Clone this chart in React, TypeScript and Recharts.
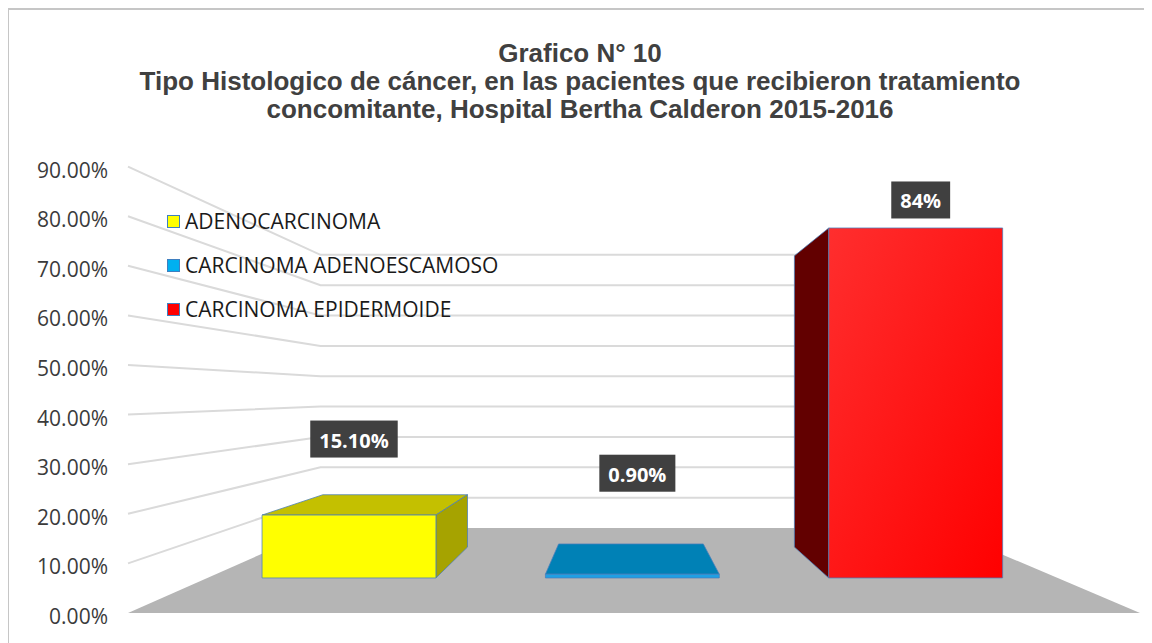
import { Bar, BarChart, CartesianGrid, LabelList, Legend, XAxis, YAxis } from "recharts";

const categories = ["ADENOCARCINOMA", "CARCINOMA ADENOESCAMOSO", "CARCINOMA EPIDERMOIDE"];
const values = [15.1, 0.9, 84];
const valueLabels = ["15.10%", "0.90%", "84%"];
const yTicks = [0, 10, 20, 30, 40, 50, 60, 70, 80, 90];
const titleLines = [
  "Grafico N° 10",
  "Tipo Histologico de cáncer, en las pacientes que recibieron tratamiento",
  "concomitante, Hospital Bertha Calderon 2015-2016",
];

const data = categories.map((name, i) => ({ name, value: values[i], label: valueLabels[i] }));

const W = 1144;
const H = 635;
const margin = { top: 158.6, right: 12, bottom: 30, left: 0 };
const plotLeft = 120;
const plotRight = W - margin.right;

// fake 3d: everything is drawn on the front plane by recharts, then pulled
// towards a vanishing point by a depth factor
const vp = { x: 616, y: 386 };
const wallDepth = 0.612;
const frontDepth = 0.84;
const backDepth = 0.699;

const sans = "'Open Sans', 'Liberation Sans', sans-serif";
const faces = [
  { front: "#FFFF00", top: "#C4C000", side: "#A6A300" },
  { front: "#1FA0E4", top: "#0081B6", side: "#006A96" },
  { front: "url(#redFront)", top: "#B00000", side: "#620000" },
];
const legendFill = ["#FFFF00", "#00B0F0", "#FF0000"];
const labelLift = [76, 101, 28];

function project(x: number, y: number, s: number): [number, number] {
  return [vp.x + s * (x - vp.x), vp.y + s * (y - vp.y)];
}
const pts = (arr: [number, number][]) => arr.map((p) => p.join(",")).join(" ");

let ctx: CanvasRenderingContext2D | null = null;
function textWidth(t: string, font: string) {
  if (!ctx) ctx = document.createElement("canvas").getContext("2d");
  if (!ctx) return t.length * 11;
  ctx.font = font;
  return ctx.measureText(t).width;
}

function WallLine(props: any) {
  const { y1 } = props;
  const floorY = H - margin.bottom;
  if (Math.abs(y1 - floorY) < 1) {
    return (
      <polygon
        key="floor"
        points={pts([
          [plotLeft, y1],
          [plotRight, y1],
          project(plotRight, y1, wallDepth),
          project(plotLeft, y1, wallDepth),
        ])}
        fill="#B5B5B5"
      />
    );
  }
  const back = project(plotLeft, y1, wallDepth);
  const backRight = project(plotRight, y1, wallDepth);
  return (
    <polyline
      key={`wall-${y1}`}
      points={pts([[plotLeft, y1], back, [backRight[0], back[1]]])}
      fill="none"
      stroke="#DADADA"
      strokeWidth={2}
    />
  );
}

function Block(props: any) {
  const { x, y, width, height, index } = props;
  const c = faces[index % faces.length];
  const x2 = x + width;
  const yb = y + height;
  const f = (px: number, py: number) => project(px, py, frontDepth);
  const b = (px: number, py: number) => project(px, py, backDepth);
  const edge = { stroke: "#4A7EBB", strokeWidth: 1, strokeOpacity: 0.75, strokeLinejoin: "round" as const };
  return (
    <g>
      {y > vp.y && <polygon points={pts([f(x, y), f(x2, y), b(x2, y), b(x, y)])} fill={c.top} {...edge} />}
      {x2 < vp.x && (
        <polygon points={pts([f(x2, y), b(x2, y), b(x2, yb), f(x2, yb)])} fill={c.side} {...edge} />
      )}
      {x > vp.x && <polygon points={pts([f(x, y), b(x, y), b(x, yb), f(x, yb)])} fill={c.side} {...edge} />}
      <polygon points={pts([f(x, y), f(x2, y), f(x2, yb), f(x, yb)])} fill={c.front} {...edge} />
    </g>
  );
}

function DataTag(props: any) {
  const vb = props.viewBox ?? props;
  const { x, y, width } = vb;
  const index = props.index ?? 0;
  const text = String(props.value);
  const [cx0] = project(x + width / 2, y, frontDepth);
  const [, top] = project(x, y, frontDepth);
  const cx = cx0 + 5;
  const cy = top - labelLift[index];
  const font = `bold 20px ${sans}`;
  const w = textWidth(text, font) + 18;
  const h = 37;
  return (
    <g>
      <rect x={cx - w / 2} y={cy - h / 2} width={w} height={h} fill="#404040" />
      <text
        x={cx}
        y={cy + 1}
        textAnchor="middle"
        dominantBaseline="central"
        fill="#FFFFFF"
        fontFamily={sans}
        fontWeight="bold"
        fontSize={20}
      >
        {text}
      </text>
    </g>
  );
}

function YTick(props: any) {
  const { y, payload } = props;
  return (
    <text
      x={100}
      y={y + 3}
      textAnchor="end"
      dominantBaseline="central"
      fill="#3B3B3B"
      fontFamily={sans}
      fontSize={21}
    >
      {`${payload.value.toFixed(2)}%`}
    </text>
  );
}

function LegendBox() {
  return (
    <div style={{ fontFamily: sans, fontSize: 21, color: "#1A1A1A" }}>
      {categories.map((c, i) => (
        <div key={c} style={{ display: "flex", alignItems: "center", height: 44 }}>
          <span
            style={{
              width: 11,
              height: 11,
              background: legendFill[i],
              border: "1.5px solid #3F7FC0",
              marginRight: 5,
            }}
          />
          {c}
        </div>
      ))}
    </div>
  );
}

export default function App() {
  return (
    <div style={{ position: "relative", width: W, height: H }}>
      <div
        style={{
          position: "absolute",
          left: -1,
          top: 0,
          width: W + 1,
          height: H,
          borderLeft: "2px solid #C6C6C6",
          borderTop: "2px solid #C6C6C6",
          boxSizing: "border-box",
          pointerEvents: "none",
        }}
      />
      <div
        style={{
          position: "absolute",
          left: 0,
          top: 31,
          width: W,
          textAlign: "center",
          fontFamily: "'Liberation Sans', Arial, sans-serif",
          fontWeight: "bold",
          fontSize: 26,
          lineHeight: "28px",
          color: "#404040",
        }}
      >
        {titleLines.map((t) => (
          <div key={t}>{t}</div>
        ))}
      </div>
      <BarChart width={W} height={H} data={data} margin={margin} barCategoryGap="19.3%">
        <defs>
          <linearGradient id="redFront" x1="0" y1="0" x2="1" y2="1">
            <stop offset="0%" stopColor="#FF2E2E" />
            <stop offset="100%" stopColor="#FF0000" />
          </linearGradient>
        </defs>
        <CartesianGrid vertical={false} horizontal={(p: any) => <WallLine {...p} />} />
        <XAxis dataKey="name" hide />
        <YAxis
          type="number"
          domain={[0, 90]}
          ticks={yTicks}
          interval={0}
          width={120}
          axisLine={false}
          tickLine={false}
          tick={(p: any) => <YTick {...p} />}
        />
        <Legend
          layout="vertical"
          align="center"
          verticalAlign="middle"
          content={() => <LegendBox />}
          wrapperStyle={{ left: 159, top: 191, width: 420 }}
        />
        <Bar dataKey="value" isAnimationActive={false} shape={(p: any) => <Block {...p} />}>
          <LabelList dataKey="label" content={(p: any) => <DataTag {...p} />} />
        </Bar>
      </BarChart>
    </div>
  );
}
